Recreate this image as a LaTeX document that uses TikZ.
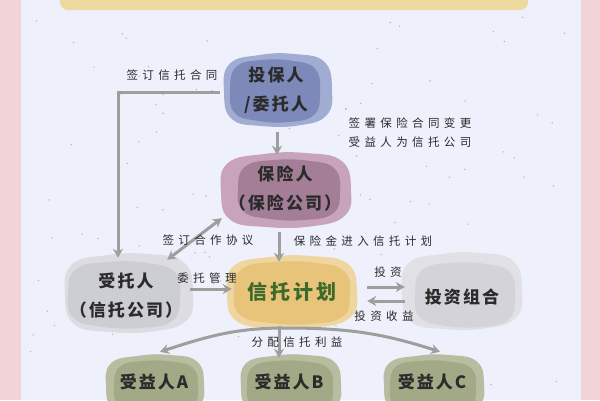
\documentclass[tikz,border=0pt]{standalone}
\usepackage{fontspec}
\setmainfont{Noto Sans CJK SC}
\usetikzlibrary{arrows.meta,calc}
\definecolor{pinkbg}{HTML}{F2D3D8}
\definecolor{panel}{HTML}{EEF0FB}
\definecolor{topbar}{HTML}{EDD9A0}
\definecolor{arrowc}{HTML}{9E9E9E}
\definecolor{txt}{HTML}{2B2B2B}
\definecolor{dotc}{HTML}{B4B6C6}
\definecolor{tbin}{HTML}{7D89B8}\definecolor{tbout}{HTML}{A1ACD3}
\definecolor{bxin}{HTML}{A47E97}\definecolor{bxout}{HTML}{C8A4BC}
\definecolor{stin}{HTML}{CDCDD4}\definecolor{stout}{HTML}{DCDCE2}
\definecolor{xtin}{HTML}{E8C47A}\definecolor{xtout}{HTML}{EFD6A0}
\definecolor{tzin}{HTML}{D3D3D9}\definecolor{tzout}{HTML}{E0E0E5}
\definecolor{syin}{HTML}{A2A986}\definecolor{syout}{HTML}{B8BCA1}
\definecolor{xtxt}{HTML}{3D6A2C}
\newcommand\blobA[5]{\begin{scope}[shift={(#2,#3)},xscale=#4,yscale=#5]
  \fill[#1] plot[smooth cycle,tension=0.75] coordinates {(1,0) (0.9,0.7) (0.4,0.98) (-0.3,1) (-0.86,0.8) (-1,0.05) (-0.9,-0.72) (-0.35,-0.97) (0.3,-1) (0.86,-0.78)};
\end{scope}}
\newcommand\blobB[5]{\begin{scope}[shift={(#2,#3)},xscale=#4,yscale=#5]
  \fill[#1] plot[smooth cycle,tension=0.75] coordinates {(1,0.1) (0.86,0.78) (0.3,1) (-0.4,0.96) (-0.9,0.7) (-1,-0.05) (-0.86,-0.78) (-0.3,-1) (0.4,-0.97) (0.9,-0.7)};
\end{scope}}
\begin{document}
\begin{tikzpicture}[x=1pt,y=-1pt,
  blob/.style={align=center,font=\fontsize{17}{29}\selectfont\bfseries\addfontfeatures{LetterSpace=12},text=txt,inner sep=0pt},
  lbl/.style={font=\fontsize{11.5}{19}\selectfont\addfontfeatures{LetterSpace=38},text=txt,inner sep=1pt},
  arr/.style={draw=arrowc,line width=3pt,-{Stealth[length=9pt,width=10pt]}},
  arrb/.style={draw=arrowc,line width=3pt,{Stealth[length=9pt,width=10pt]}-{Stealth[length=9pt,width=10pt]}}]
\useasboundingbox (0,0) rectangle (600,400);
% background
\fill[pinkbg] (0,0) rectangle (600,400);
\fill[panel] (21,0) rectangle (581,400);
\fill[topbar] (60,-10) [rounded corners=8pt] -- (60,10) -- (528,10) [sharp corners]-- (528,-10) -- cycle;
\pgfmathsetseed{11}
\foreach \i in {1,...,110}{
  \pgfmathsetmacro\px{30+540*rnd}\pgfmathsetmacro\py{15+385*rnd}
  \fill[dotc] (\px,\py) circle (0.8pt);}
% blobs
\blobA{tbout}{278}{90}{54}{36}
\blobB{tbin}{275}{91}{45}{31}
\blobA{bxout}{286}{190}{65}{37}
\blobB{bxin}{289}{190}{51}{30}
\blobA{stout}{129}{293}{64}{39}
\blobB{stin}{124}{295}{56}{33}
\blobA{xtout}{292}{292}{65}{36}
\blobB{xtin}{292}{293}{58}{31}
\blobA{tzout}{462}{291}{60}{38}
\blobB{tzin}{465}{295}{50}{32}
\blobA{syout}{155}{385}{49}{30}
\blobB{syin}{156}{387}{42}{26}
\blobA{syout}{291}{385}{50}{30}
\blobB{syin}{290}{387}{43}{26}
\blobA{syout}{434}{385}{50}{30}
\blobB{syin}{433}{387}{43}{26}
% nodes
\node[blob,minimum width=104pt,minimum height=68pt] (tb) at (276,90) {投保人\\/委托人};
\node[blob,minimum width=128pt,minimum height=72pt] (bx) at (285,188) {保险人\\（保险公司）};
\node[blob,minimum width=124pt,minimum height=74pt] (st) at (126,296) {受托人\\（信托公司）};
\node[blob,minimum width=128pt,minimum height=68pt,text=xtxt,font=\fontsize{20}{24}\selectfont\bfseries\addfontfeatures{LetterSpace=14}] (xt) at (292,292) {信托计划};
\node[blob,minimum width=114pt,minimum height=72pt] (tz) at (462,297) {投资组合};
\node[blob,minimum width=96pt,minimum height=50pt] (A) at (154,382) {受益人A};
\node[blob,minimum width=96pt,minimum height=50pt] (B) at (289,382) {受益人B};
\node[blob,minimum width=96pt,minimum height=50pt] (C) at (432,382) {受益人C};
% connectors
\draw[arr] ([xshift=-4pt,yshift=-2pt]tb.west) -| ([xshift=-8pt,yshift=1pt]st.north);
\draw[arr] ([xshift=1pt,yshift=-8pt]tb.south) -- ([xshift=1pt,yshift=-3pt]tb.south |- bx.north);
\draw[arrb] ([xshift=-21pt,yshift=-1pt]st.north east) -- ([xshift=1pt,yshift=6pt]bx.south west);
\draw[arr] ([xshift=3pt,yshift=-8pt]tb.south |- bx.south) -- ([xshift=3pt,yshift=-4pt]tb.south |- xt.north);
\draw[arr] ([xshift=2pt,yshift=7pt]st.east) -- ([xshift=4pt,yshift=3pt]xt.west);
\draw[arr] ([xshift=11pt,yshift=5pt]xt.east) -- ([yshift=10pt]tz.west);
\draw[arr] ([yshift=-4pt]tz.west) -- ([xshift=11pt,yshift=-9pt]xt.east);
\coordinate (dist) at (285,328);
\draw[arr] (dist) to[out=180,in=18] ([xshift=6pt,yshift=5pt]A.north);
\draw[arr] (dist) to[out=0,in=162] ([xshift=8pt,yshift=5pt]C.north);
\draw[arr] ([xshift=-13pt]xt.south) -- ([xshift=-10pt,yshift=-1pt]B.north);
% labels
\node[lbl] (l1) at (172,75) {签订信托合同};
\node[lbl,align=left] (l2) at (410,133) {签署保险合同变更\\受益人为信托公司};
\node[lbl] (l3) at (208,240) {签订合作协议};
\node[lbl] (l4) at (363,241) {保险金进入信托计划};
\node[lbl] (l5) at (207,278) {委托管理};
\node[lbl] (l6) at (388,272) {投资};
\node[lbl] (l7) at (384,316) {投资收益};
\node[lbl] (l8) at (297,342) {分配信托利益};
\end{tikzpicture}
\end{document}
